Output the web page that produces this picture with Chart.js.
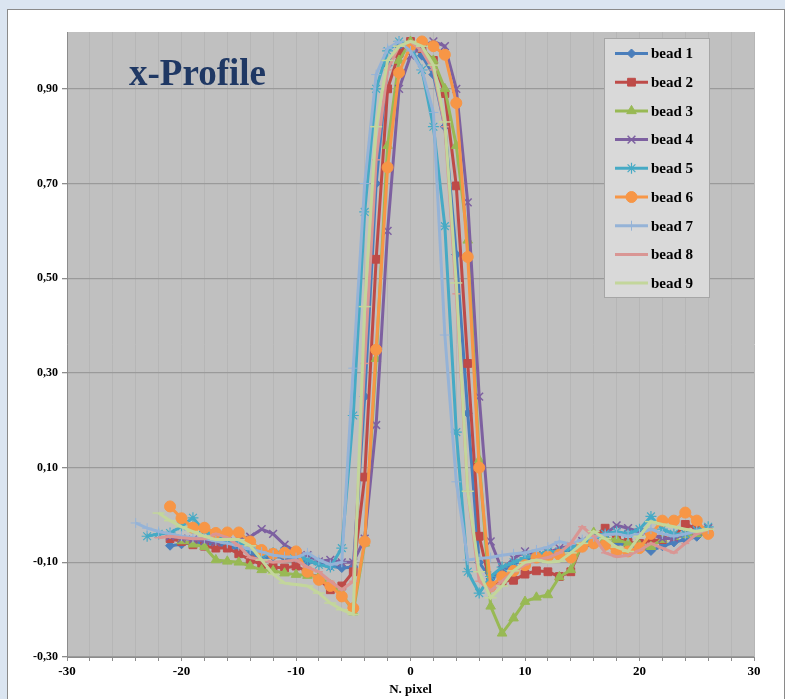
<!DOCTYPE html>
<html>
<head>
<meta charset="utf-8">
<script src="https://cdn.jsdelivr.net/npm/chart.js@4.4.1/dist/chart.umd.min.js"></script>
<style>
  html, body { margin: 0; padding: 0; width: 785px; height: 699px; overflow: hidden; background: #dbe5f1; }
  #panel { position: absolute; left: 7px; top: 9px; width: 776px; height: 700px; background: #ffffff; border: 1px solid #8a8a8a; }
  #wrap { position: absolute; left: 0; top: 0; width: 785px; height: 699px; }
</style>
</head>
<body>
<div id="panel"></div>
<div id="wrap"><canvas id="chart" width="785" height="699"></canvas></div>
<script>
// pixel index along the x profile
const pixels = [-24,-23,-22,-21,-20,-19,-18,-17,-16,-15,-14,-13,-12,-11,-10,-9,-8,-7,
                -6,-5,-4,-3,-2,-1,0,1,2,3,4,5,6,7,8,
                9,10,11,12,13,14,15,16,17,18,19,20,21,22,23,24,25,26];

// normalised intensity of each bead (null = no sample at that pixel)
const bead1 = [null,null,null,-0.065,-0.062,-0.058,-0.060,-0.063,-0.066,-0.072,-0.080,-0.092,-0.088,-0.090,-0.094,-0.100,-0.100,-0.108,
               -0.112,-0.110,0.250,0.700,0.950,0.990,1.000,0.970,0.930,0.820,0.550,0.215,-0.100,-0.135,-0.120,
               -0.102,-0.095,-0.090,-0.088,-0.080,-0.076,-0.068,-0.062,-0.058,-0.060,-0.064,-0.068,-0.076,-0.066,-0.058,-0.052,-0.046,-0.034];
const bead2 = [null,null,null,-0.050,-0.056,-0.063,-0.066,-0.070,-0.070,-0.082,-0.095,-0.105,-0.110,-0.112,-0.108,-0.120,-0.135,-0.158,
               -0.150,-0.120,0.080,0.540,0.900,0.975,1.000,0.985,0.960,0.890,0.695,0.320,-0.045,-0.150,-0.140,
               -0.138,-0.125,-0.118,-0.120,-0.130,-0.120,-0.060,-0.045,-0.028,-0.050,-0.058,-0.060,-0.055,-0.052,-0.045,-0.020,-0.028,-0.036];
const bead3 = [null,null,null,null,-0.055,-0.062,-0.067,-0.095,-0.098,-0.100,-0.108,-0.116,-0.118,-0.123,-0.126,-0.128,-0.130,-0.148,
               -0.165,-0.205,-0.060,0.330,0.780,0.960,1.000,0.985,0.960,0.900,0.780,0.580,0.116,-0.193,-0.250,
               -0.218,-0.183,-0.174,-0.169,-0.131,-0.116,-0.060,-0.037,-0.050,-0.052,-0.060,-0.064,-0.067,-0.052,-0.046,-0.042,-0.040,-0.036];
const bead4 = [null,null,null,-0.045,-0.050,-0.052,-0.055,-0.058,-0.055,-0.050,-0.046,-0.030,-0.040,-0.063,-0.078,-0.085,-0.098,-0.095,
               -0.100,-0.100,-0.050,0.190,0.600,0.900,0.970,0.990,1.000,0.990,0.900,0.660,0.250,-0.056,-0.116,
               -0.092,-0.077,-0.085,-0.080,-0.070,-0.066,-0.055,-0.046,-0.040,-0.022,-0.028,-0.036,-0.040,-0.050,-0.049,-0.040,-0.034,-0.028];
const bead5 = [null,-0.045,-0.040,-0.038,-0.024,-0.006,-0.035,-0.045,-0.055,-0.060,-0.070,-0.085,-0.080,-0.077,-0.085,-0.095,-0.105,-0.110,
               -0.070,0.210,0.640,0.900,0.980,1.000,0.990,0.940,0.820,0.610,0.175,-0.120,-0.165,-0.130,-0.110,
               -0.100,-0.090,-0.085,-0.077,-0.077,-0.070,-0.060,-0.050,-0.040,-0.035,-0.040,-0.030,-0.003,-0.030,-0.040,-0.040,-0.032,-0.025];
const bead6 = [null,null,null,0.018,-0.007,-0.027,-0.027,-0.038,-0.037,-0.037,-0.056,-0.074,-0.082,-0.080,-0.077,-0.120,-0.137,-0.150,
               -0.172,-0.197,-0.056,0.349,0.734,0.934,0.990,1.000,0.990,0.972,0.870,0.545,0.100,-0.151,-0.130,
               -0.118,-0.106,-0.090,-0.088,-0.084,-0.090,-0.067,-0.060,-0.063,-0.077,-0.077,-0.070,-0.040,-0.012,-0.012,0.005,-0.012,-0.040];
const bead7 = [-0.017,-0.028,-0.035,-0.040,-0.045,-0.048,-0.050,-0.055,-0.060,-0.065,-0.072,-0.078,-0.085,-0.088,-0.090,-0.080,-0.095,-0.105,
               -0.100,0.310,0.700,0.930,0.985,1.000,0.980,0.940,0.850,0.380,0.070,-0.095,-0.092,-0.090,-0.085,
               -0.082,-0.080,-0.074,-0.068,-0.056,-0.062,-0.052,-0.046,-0.042,-0.040,-0.045,-0.040,-0.030,-0.040,-0.045,-0.040,-0.034,-0.030];
const bead8 = [null,null,-0.048,-0.045,-0.048,-0.050,-0.050,-0.040,-0.048,-0.065,-0.090,-0.095,-0.100,-0.098,-0.095,-0.110,-0.120,-0.140,
               -0.158,-0.140,0.320,0.750,0.940,0.990,1.000,0.980,0.940,0.820,0.467,0.050,-0.140,-0.160,-0.140,
               -0.120,-0.105,-0.095,-0.090,-0.080,-0.060,-0.025,-0.045,-0.080,-0.088,-0.085,-0.075,-0.060,-0.070,-0.080,-0.060,-0.040,-0.030];
const bead9 = [null,null,0.004,-0.012,-0.025,-0.035,-0.045,-0.052,-0.052,-0.052,-0.065,-0.095,-0.125,-0.144,-0.147,-0.150,-0.165,-0.186,
               -0.200,-0.210,0.440,0.820,0.960,0.990,1.000,0.990,0.950,0.830,0.490,0.050,-0.120,-0.175,-0.150,
               -0.118,-0.100,-0.095,-0.100,-0.098,-0.080,-0.060,-0.035,-0.050,-0.068,-0.077,-0.045,-0.014,-0.020,-0.025,-0.030,-0.035,-0.030];

const beadNames = ['bead 1','bead 2','bead 3','bead 4','bead 5','bead 6','bead 7','bead 8','bead 9'];
const yTickValues = [-0.3,-0.1,0.1,0.3,0.5,0.7,0.9];
const xLabelValues = [-30,-20,-10,0,10,20,30];

const beadSeries = [bead1,bead2,bead3,bead4,bead5,bead6,bead7,bead8,bead9];

// line colours and marker shapes per bead
const beadColors = ['#4a7ebb','#be4b48','#98b954','#7d60a0','#46aac5','#f79646','#95b3d7','#d99694','#c3d69b'];
const beadMarkers = [
  { style: 'rectRot',  radius: 4.5, width: 1 },
  { style: 'rect',     radius: 5.5, width: 1 },
  { style: 'triangle', radius: 5.5, width: 1 },
  { style: 'crossRot', radius: 5.5, width: 1.5 },
  { style: 'star',     radius: 5.5, width: 1.2 },
  { style: 'circle',   radius: 5.5, width: 1 },
  { style: 'cross',    radius: 5,   width: 1 },
  { style: 'line',     radius: 4,   width: 1.5 },
  { style: 'line',     radius: 6,   width: 1.5 }
];

const SERIF = "'Liberation Serif', 'Times New Roman', serif";

const datasets = beadSeries.map((vals, i) => ({
  label: beadNames[i],
  data: pixels.map((x, k) => ({ x: x, y: vals[k] })).filter(p => p.y !== null),
  borderColor: beadColors[i],
  backgroundColor: beadColors[i],
  borderWidth: 3,
  tension: 0,
  pointStyle: beadMarkers[i].style,
  pointRadius: beadMarkers[i].radius,
  pointBorderWidth: beadMarkers[i].width,
  pointBorderColor: beadColors[i],
  pointBackgroundColor: beadColors[i],
  order: beadSeries.length - 1 - i
}));

// grey plot area behind the grid
const plotBackground = {
  id: 'plotBackground',
  beforeDraw(chart) {
    const { ctx, chartArea: a } = chart;
    ctx.save();
    ctx.fillStyle = '#c0c0c0';
    ctx.fillRect(a.left, a.top, a.right - a.left, a.bottom - a.top);
    ctx.restore();
  }
};

// "x-Profile" caption inside the plot
const profileCaption = {
  id: 'profileCaption',
  afterDatasetsDraw(chart) {
    const { ctx, chartArea: a } = chart;
    ctx.save();
    ctx.font = 'bold 37px ' + SERIF;
    ctx.fillStyle = '#1f3864';
    ctx.textBaseline = 'alphabetic';
    ctx.textAlign = 'left';
    ctx.fillText('x-Profile', a.left + 62, a.top + 53);
    ctx.restore();
  }
};

function markerSample(ctx, i, x, y) {
  const m = beadMarkers[i];
  const opts = {
    pointStyle: m.style, radius: m.radius, rotation: 0,
    borderWidth: m.width, borderColor: beadColors[i], backgroundColor: beadColors[i]
  };
  ctx.save();
  ctx.fillStyle = beadColors[i];
  ctx.strokeStyle = beadColors[i];
  ctx.lineWidth = m.width;
  if (Chart.helpers && Chart.helpers.drawPoint) {
    Chart.helpers.drawPoint(ctx, opts, x, y);
  }
  ctx.restore();
}

// boxed legend in the upper-right corner of the plot
const boxedLegend = {
  id: 'boxedLegend',
  afterDraw(chart) {
    const { ctx, chartArea: a } = chart;
    const left = a.right - 150, top = a.top + 6, w = 105, h = 259;
    const rowH = 28.7;
    ctx.save();
    ctx.fillStyle = '#d9d9d9';
    ctx.fillRect(left, top, w, h);
    ctx.strokeStyle = '#a6a6a6';
    ctx.lineWidth = 1;
    ctx.strokeRect(left + 0.5, top + 0.5, w, h);
    beadNames.forEach((name, i) => {
      const cy = top + 15.5 + i * rowH;
      ctx.strokeStyle = beadColors[i];
      ctx.lineWidth = 3;
      ctx.beginPath();
      ctx.moveTo(left + 11, cy);
      ctx.lineTo(left + 44, cy);
      ctx.stroke();
      markerSample(ctx, i, left + 27.5, cy);
      ctx.fillStyle = '#000000';
      ctx.font = 'bold 15px ' + SERIF;
      ctx.textBaseline = 'middle';
      ctx.textAlign = 'left';
      ctx.fillText(name, left + 47, cy + 1);
    });
    ctx.restore();
  }
};

new Chart(document.getElementById('chart'), {
  type: 'line',
  data: { datasets: datasets },
  options: {
    responsive: false,
    animation: false,
    devicePixelRatio: 1,
    layout: { padding: { left: 17, top: 32, right: 31, bottom: 0 } },
    plugins: { legend: { display: false }, tooltip: { enabled: false } },
    scales: {
      x: {
        type: 'linear',
        min: -30, max: 30,
        afterFit(scale) { scale.height = 42; },
        ticks: {
          stepSize: 2,
          autoSkip: false,
          maxRotation: 0,
          padding: 3,
          color: '#000000',
          font: { family: SERIF, size: 13, weight: 'bold' },
          callback: v => (xLabelValues.includes(v) ? String(v) : '')
        },
        grid: { color: '#b6b6b6', lineWidth: 1, tickLength: 4, tickColor: '#8c8c8c' },
        border: { color: '#8c8c8c', width: 1 },
        title: {
          display: true, text: 'N. pixel', color: '#000000',
          font: { family: SERIF, size: 13, weight: 'bold' },
          padding: { top: 0, bottom: 2 }
        }
      },
      y: {
        type: 'linear',
        min: -0.3, max: 1.02,
        afterFit(scale) { scale.width = 50; },
        afterBuildTicks(scale) { scale.ticks = yTickValues.map(v => ({ value: v })); },
        ticks: {
          padding: 4,
          color: '#000000',
          font: { family: SERIF, size: 12, weight: 'bold' },
          callback: v => v.toFixed(2).replace('.', ',')
        },
        grid: { color: '#9a9a9a', lineWidth: 1.3, tickLength: 5, tickColor: '#8c8c8c' },
        border: { color: '#8c8c8c', width: 1 }
      }
    }
  },
  plugins: [plotBackground, profileCaption, boxedLegend]
});
</script>
</body>
</html>
